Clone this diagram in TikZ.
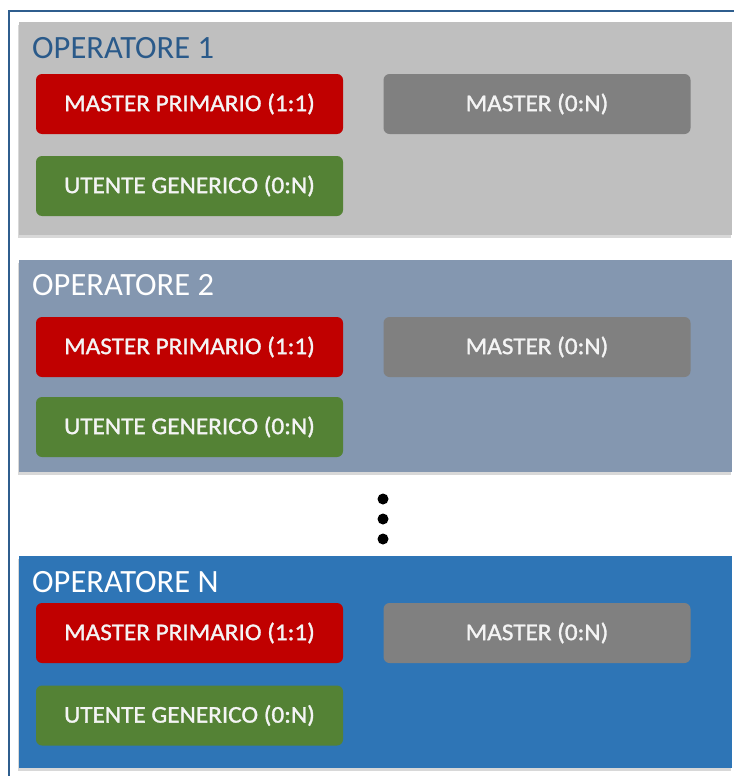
\documentclass[tikz,border=0pt]{standalone}
\usepackage{fontspec}
\setmainfont{Carlito}
\newfontfamily\btnfont[FakeBold=1.3,FakeStretch=1.05]{Carlito}
\usetikzlibrary{shadows}
\definecolor{frameblue}{HTML}{2F5E8E}
\definecolor{pgray}{HTML}{BFBFBF}
\definecolor{pslate}{HTML}{8497B0}
\definecolor{pblue}{HTML}{2E75B6}
\definecolor{bred}{HTML}{C00000}
\definecolor{bgreen}{HTML}{548235}
\definecolor{bgray}{HTML}{808080}
\definecolor{titleblue}{HTML}{2A5A8A}
\definecolor{btntext}{HTML}{F4F4F4}
\tikzset{
  panel/.style={draw=none, drop shadow={shadow xshift=-1.5pt, shadow yshift=-3pt, opacity=0.25, fill=black!60}},
  btn/.style={rounded corners=6pt, draw=none, minimum width=307pt, minimum height=60pt, inner sep=0pt,
              text=btntext, font=\btnfont\fontsize{24}{26}\selectfont},
  ttl/.style={anchor=west, inner sep=0pt, font=\fontsize{32.5}{35}\selectfont},
  dot/.style={circle, fill=black, minimum size=11pt, inner sep=0pt}
}
\begin{document}
\begin{tikzpicture}[x=1pt, y=-1pt]
\useasboundingbox (0,0) rectangle (734,776);
\fill[white] (0,0) rectangle (734,776);
% outer frame
\draw[frameblue, line width=2pt] (8.5,776) -- (8.5,11) -- (734,11);
% panels
\path[panel, fill=pgray] (19,22) rectangle (732,235);
\path[panel, fill=pslate] (19,260) rectangle (732,472);
\path[panel, fill=pblue] (19,556) rectangle (732,768);
% panel 1
\node[ttl, text=titleblue] (t1) at (32,48) {OPERATORE 1};
\node[btn, fill=bred] (r1) at (189.5,104) {MASTER PRIMARIO (1:1)};
\node[btn, fill=bgray] (g1) at (537,104) {MASTER (0:N)};
\node[btn, fill=bgreen] (u1) at (189.5,186) {UTENTE GENERICO (0:N)};
% panel 2
\node[ttl, text=white] (t2) at (32,285) {OPERATORE 2};
\node[btn, fill=bred] (r2) at (189.5,347) {MASTER PRIMARIO (1:1)};
\node[btn, fill=bgray] (g2) at (537,347) {MASTER (0:N)};
\node[btn, fill=bgreen] (u2) at (189.5,427) {UTENTE GENERICO (0:N)};
% dots
\node[dot] (d1) at (383,499) {};
\node[dot] (d2) at (383,519) {};
\node[dot] (d3) at (383,539) {};
% panel N
\node[ttl, text=white] (t3) at (32,582) {OPERATORE N};
\node[btn, fill=bred] (r3) at (189.5,633) {MASTER PRIMARIO (1:1)};
\node[btn, fill=bgray] (g3) at (537,633) {MASTER (0:N)};
\node[btn, fill=bgreen] (u3) at (189.5,715.5) {UTENTE GENERICO (0:N)};
\end{tikzpicture}
\end{document}
